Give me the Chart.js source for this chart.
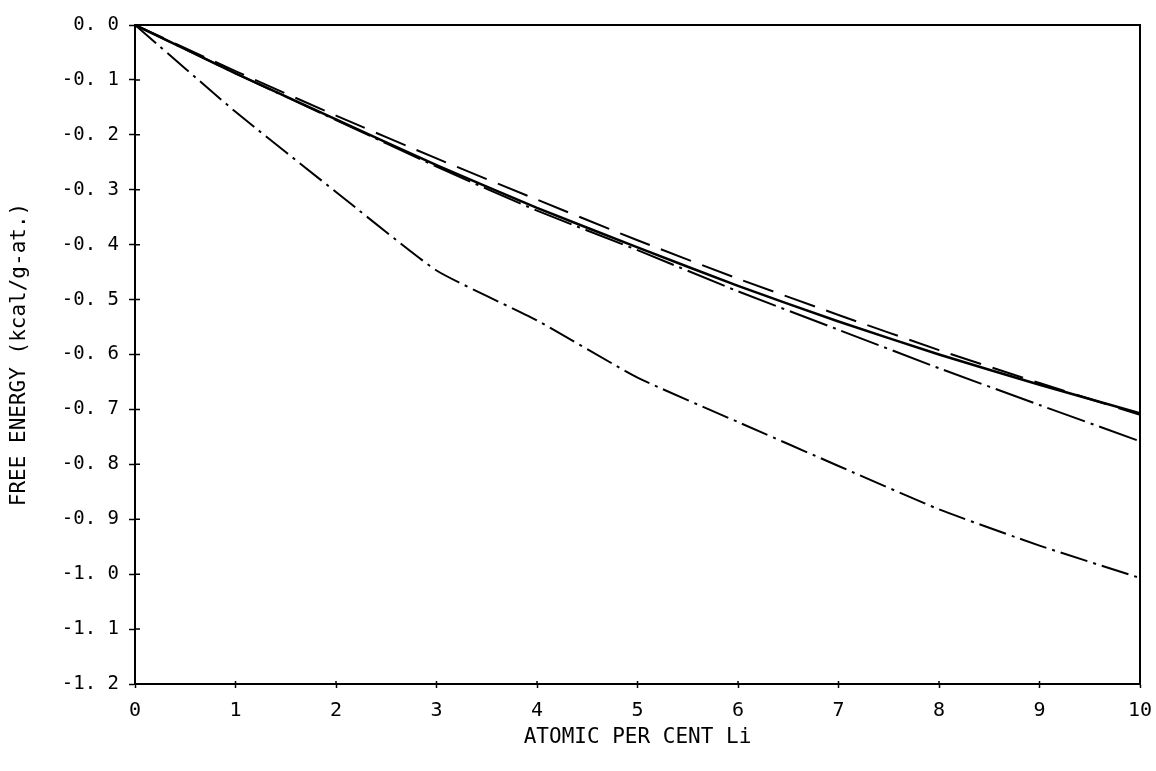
<!DOCTYPE html>
<html>
<head>
<meta charset="utf-8">
<script src="https://cdn.jsdelivr.net/npm/chart.js@4"></script>
<style>
    body { margin: 0; background: #fff; }
    canvas { display: block; }
</style>
</head>
<body>
<canvas id="energyChart" width="1156" height="771"></canvas>
<script>
// ===== DATA =====
const atomicPct = [0, 1, 2, 3, 4, 5, 6, 7, 8, 9, 10];

const solidCurve   = [0, -0.088, -0.172, -0.255, -0.333, -0.405, -0.475, -0.54, -0.60, -0.655, -0.707];
const dashedCurve  = [0, -0.084, -0.165, -0.243, -0.318, -0.392, -0.462, -0.528, -0.592, -0.652, -0.71];
const dashDotUpper = [0, -0.088, -0.173, -0.258, -0.338, -0.41, -0.485, -0.555, -0.625, -0.692, -0.758];
const dashDotLower = [0, -0.158, -0.304, -0.447, -0.538, -0.642, -0.723, -0.803, -0.882, -0.948, -1.007];

const yTicks = [0, -0.1, -0.2, -0.3, -0.4, -0.5, -0.6, -0.7, -0.8, -0.9, -1.0, -1.1, -1.2];

const xTitle = 'ATOMIC PER CENT Li';
const yTitle = 'FREE ENERGY (kcal/g-at.)';

const FONT = "'DejaVu Sans Mono', 'Liberation Mono', monospace";

function toPoints(values) {
    return atomicPct.map((x, i) => ({ x: x, y: values[i] }));
}

function formatY(v) {
    let s = Math.abs(v) < 1e-9 ? '0.0' : v.toFixed(1);
    return s.replace('.', '. ');
}

// рамка сверху и справа + внутренние засечки
const framePlugin = {
    id: 'frame',
    afterDraw(chart) {
        const { ctx, chartArea: a, scales } = chart;
        ctx.save();
        ctx.strokeStyle = '#000';
        ctx.lineWidth = 2;
        ctx.beginPath();
        ctx.moveTo(a.left, a.top);
        ctx.lineTo(a.right, a.top);
        ctx.lineTo(a.right, a.bottom);
        ctx.stroke();

        ctx.lineWidth = 1.5;
        ctx.beginPath();
        yTicks.forEach(v => {
            const py = scales.y.getPixelForValue(v);
            ctx.moveTo(a.left, py);
            ctx.lineTo(a.left + 5, py);
        });
        atomicPct.forEach(v => {
            const px = scales.x.getPixelForValue(v);
            ctx.moveTo(px, a.bottom);
            ctx.lineTo(px, a.bottom - 3);
        });
        ctx.stroke();
        ctx.restore();
    }
};

function lineSet(values, dash, width) {
    return {
        data: toPoints(values),
        borderColor: '#000',
        borderWidth: width,
        borderDash: dash,
        pointRadius: 0,
        tension: 0.15,
        fill: false
    };
}

const ctx = document.getElementById('energyChart').getContext('2d');

new Chart(ctx, {
    type: 'line',
    data: {
        datasets: [
            lineSet(dashDotLower, [28, 6, 3, 6], 2),
            lineSet(dashDotUpper, [40, 6, 3, 6], 2),
            lineSet(dashedCurve, [32, 12], 2),
            lineSet(solidCurve, [], 2.5)
        ]
    },
    options: {
        responsive: false,
        animation: false,
        layout: {
            padding: { left: 0, right: 16, top: 25, bottom: 0 }
        },
        plugins: {
            legend: { display: false },
            tooltip: { enabled: false }
        },
        scales: {
            x: {
                type: 'linear',
                min: 0,
                max: 10,
                afterFit: s => {
                    s.height = 87;
                    s.paddingLeft = 0;
                    s.paddingRight = 0;
                },
                ticks: {
                    stepSize: 1,
                    color: '#000',
                    padding: 11,
                    font: { family: FONT, size: 20 }
                },
                grid: {
                    drawOnChartArea: false,
                    tickLength: 4,
                    tickColor: '#000',
                    tickWidth: 1.5
                },
                border: { color: '#000', width: 2 },
                title: {
                    display: true,
                    text: xTitle,
                    color: '#000',
                    font: { family: FONT, size: 21 },
                    padding: { top: 0, bottom: 21 }
                }
            },
            y: {
                min: -1.2,
                max: 0,
                afterFit: s => { s.width = 135; },
                afterBuildTicks: s => { s.ticks = yTicks.map(v => ({ value: v })); },
                ticks: {
                    color: '#000',
                    padding: 10,
                    font: { family: FONT, size: 19 },
                    callback: v => formatY(v)
                },
                grid: {
                    drawOnChartArea: false,
                    tickLength: 6,
                    tickColor: '#000',
                    tickWidth: 1.5
                },
                border: { color: '#000', width: 2 },
                title: {
                    display: true,
                    text: yTitle,
                    color: '#000',
                    font: { family: FONT, size: 21 },
                    padding: { top: 7, bottom: 0 }
                }
            }
        }
    },
    plugins: [framePlugin]
});
</script>
</body>
</html>
